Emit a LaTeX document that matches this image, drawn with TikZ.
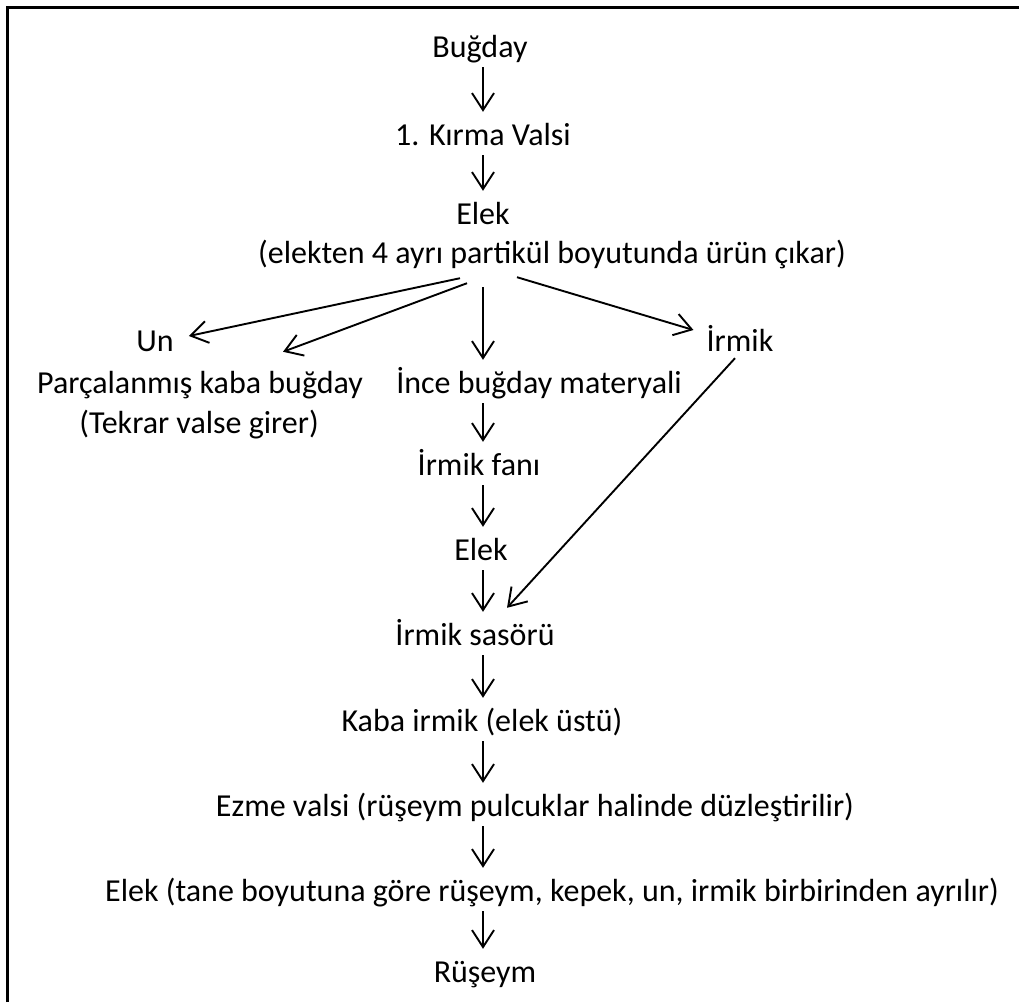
\documentclass[tikz,border=0pt]{standalone}
\usepackage{fontspec}
\setmainfont{Carlito}
\usetikzlibrary{arrows.meta,calc}
\begin{document}
\begin{tikzpicture}[x=1pt,y=-1pt,
  lbl/.style={font=\fontsize{32}{38}\selectfont, inner sep=0pt, text height=22pt, text depth=8pt, anchor=base},
  link/.style={line width=1.9pt, -{Straight Barb[length=17pt,width=22pt,line width=1.9pt]}},
  arr/.style={link, shorten <=2pt, shorten >=11pt},
]
\useasboundingbox (0,0) rectangle (1019,1002);
\draw[line width=3pt] (7,1002) -- (7,7) -- (1019,7);
\coordinate (ax) at (483,0);

\node[lbl] (bug)  at (480,57)  {Buğday};
\node[lbl] (kir)  at (483,145) {1. Kırma Valsi};
\node[lbl] (elk1) at (483,224) {Elek};
\node[lbl] (elkb) at (552,263) {(elekten 4 ayrı partikül boyutunda ürün çıkar)};
\node[lbl] (un)   at (155,351) {Un};
\node[lbl] (irm)  at (740,351) {İrmik};
\node[lbl] (parc) at (200,393) {Parçalanmış kaba buğday};
\node[lbl] (tek)  at (199,433) {(Tekrar valse girer)};
\node[lbl] (ince) at (539,393) {İnce buğday materyali};
\node[lbl] (fan)  at (479,475) {İrmik fanı};
\node[lbl] (elk2) at (481,560) {Elek};
\node[lbl] (sas)  at (475,645) {İrmik sasörü};
\node[lbl] (kaba) at (482,731) {Kaba irmik (elek üstü)};
\node[lbl] (ezme) at (535,816) {Ezme valsi (rüşeym pulcuklar halinde düzleştirilir)};
\node[lbl] (elk3) at (552,901) {Elek (tane boyutuna göre rüşeym, kepek, un, irmik birbirinden ayrılır)};
\node[lbl] (rus)  at (485,982) {Rüşeym};

\draw[arr] (bug.south -| ax) -- (kir.north -| ax);
\draw[arr] (kir.south -| ax) -- (elk1.north -| ax);
\draw[arr, shorten <=16pt] (elkb.south -| ax) -- (ince.north -| ax);
\draw[arr] (ince.south -| ax) -- (fan.north -| ax);
\draw[arr] (fan.south -| ax) -- (elk2.north -| ax);
\draw[arr] (elk2.south -| ax) -- (sas.north -| ax);
\draw[arr] (sas.south -| ax) -- (kaba.north -| ax);
\draw[arr] (kaba.south -| ax) -- (ezme.north -| ax);
\draw[arr] (ezme.south -| ax) -- (elk3.north -| ax);
\draw[arr] (elk3.south -| ax) -- (rus.north -| ax);

\draw[link] ($(elkb.south)+(-92,7)$) -- ($(un.east)+(15,-8)$);
\draw[link] ($(elkb.south)+(-85,12)$) -- ($(parc.north)+(83,-19)$);
\draw[link] ($(elkb.south)+(-35,6)$) -- ($(irm.west)+(-13,-14)$);
\draw[link] ($(irm.south)+(-5,-1)$) -- ($(sas.north)+(32,-15)$);
\end{tikzpicture}
\end{document}
